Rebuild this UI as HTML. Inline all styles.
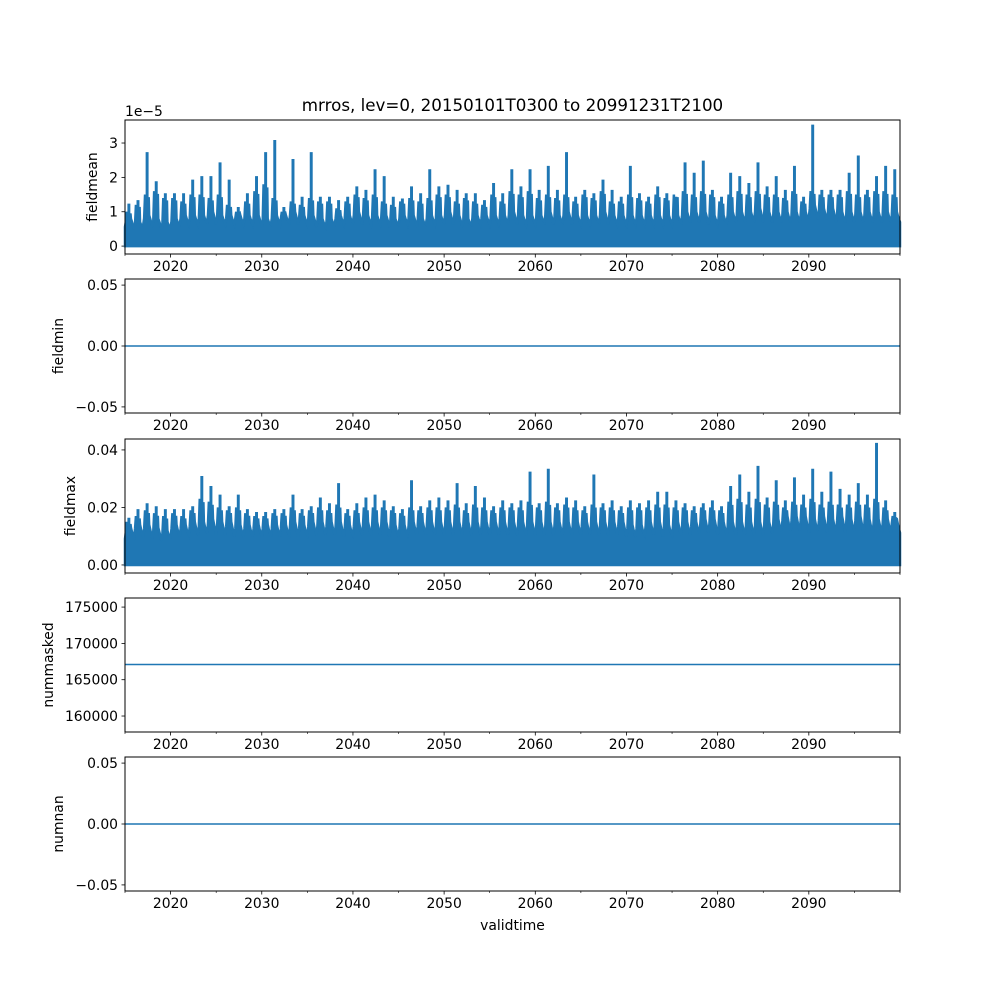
<!DOCTYPE html>
<html><head><meta charset="utf-8"><style>
body{margin:0;background:#fff}
svg{font-family:"DejaVu Sans","Liberation Sans",sans-serif}
text{font-size:13.9px;fill:#000}
</style></head><body>
<svg id="fig" width="1000" height="1000" viewBox="0 0 1000 1000">
<text x="512.5" y="111" text-anchor="middle" style="font-size:16.7px">mrros, lev=0, 20150101T0300 to 20991231T2100</text>
<text x="125" y="116">1e−5</text>
<text x="512.5" y="930" text-anchor="middle">validtime</text>
</svg>
<script>
const years = [];
for (let y = 2015; y <= 2099; y++) years.push(y);
const meanPeaks = [1.2,1.3,2.7,1.85,1.5,1.5,1.5,1.9,2.0,2.0,2.4,1.9,1.1,1.5,2.0,2.7,3.05,1.1,2.5,1.4,2.7,1.4,1.4,1.3,1.4,1.7,1.6,2.2,2.0,1.4,1.35,1.7,1.5,2.2,1.7,1.75,1.6,1.5,1.5,1.3,1.8,1.5,2.2,1.7,2.2,1.6,2.3,1.6,2.7,1.4,1.6,1.5,1.9,1.6,1.4,2.3,1.5,1.4,1.7,1.5,1.4,2.4,2.1,2.45,1.6,1.4,2.1,2.0,1.8,2.4,1.7,2.0,1.6,2.3,1.4,3.5,1.6,1.6,1.6,2.1,2.6,1.6,2.0,2.3,2.2];
const meanSecond = [1.0,1.2,1.5,1.6,1.4,1.4,1.3,1.5,1.5,1.4,1.5,1.2,1.0,1.3,1.6,1.8,1.4,1.0,1.3,1.2,1.4,1.3,1.3,1.1,1.3,1.5,1.4,1.5,1.3,1.2,1.3,1.4,1.3,1.4,1.5,1.5,1.3,1.4,1.3,1.2,1.5,1.3,1.6,1.5,1.6,1.4,1.5,1.4,1.5,1.3,1.5,1.4,1.6,1.3,1.3,1.5,1.4,1.3,1.5,1.4,1.5,1.6,1.5,1.6,1.5,1.3,1.5,1.6,1.5,1.6,1.5,1.5,1.4,1.6,1.3,1.6,1.5,1.5,1.5,1.6,1.5,1.5,1.6,1.6,1.5];
const meanBulk = [0.8,0.7,0.9,0.8,0.7,0.8,0.9,0.9,0.9,1.0,0.9,0.9,0.9,0.9,0.9,0.8,0.9,0.9,1.0,0.9,0.9,0.8,0.8,0.9,0.9,1.0,0.9,0.9,0.9,0.8,0.9,0.9,0.8,0.9,0.9,1.0,0.9,0.8,0.9,0.9,0.9,0.9,1.0,0.9,0.9,0.9,1.0,0.9,1.0,0.9,0.9,0.9,1.0,0.9,0.9,0.9,0.9,0.9,0.9,0.9,0.9,1.0,1.0,1.0,0.9,0.9,1.0,1.0,1.0,1.1,1.0,1.0,1.0,1.0,1.0,1.2,1.1,1.1,1.0,1.0,1.0,1.0,1.0,1.0,1.0];
const maxPeaks = [0.016,0.019,0.021,0.020,0.019,0.019,0.019,0.020,0.0305,0.027,0.024,0.020,0.024,0.019,0.018,0.018,0.019,0.019,0.024,0.019,0.020,0.023,0.021,0.028,0.019,0.021,0.023,0.024,0.022,0.020,0.019,0.029,0.020,0.022,0.023,0.022,0.028,0.021,0.027,0.023,0.020,0.022,0.021,0.022,0.032,0.021,0.033,0.021,0.023,0.022,0.020,0.031,0.021,0.022,0.020,0.022,0.021,0.022,0.025,0.025,0.022,0.021,0.020,0.021,0.022,0.020,0.027,0.031,0.025,0.034,0.023,0.029,0.022,0.030,0.024,0.033,0.025,0.032,0.026,0.024,0.028,0.024,0.042,0.022,0.018];
const maxSecond = [0.015,0.017,0.019,0.018,0.017,0.018,0.017,0.019,0.023,0.022,0.020,0.019,0.020,0.018,0.017,0.017,0.018,0.018,0.020,0.018,0.019,0.020,0.019,0.021,0.018,0.019,0.020,0.020,0.020,0.019,0.018,0.020,0.019,0.020,0.020,0.020,0.021,0.019,0.021,0.020,0.019,0.020,0.020,0.020,0.022,0.020,0.022,0.020,0.021,0.020,0.019,0.021,0.020,0.020,0.019,0.020,0.020,0.020,0.021,0.021,0.020,0.020,0.019,0.020,0.020,0.019,0.022,0.023,0.021,0.023,0.021,0.022,0.020,0.022,0.021,0.023,0.021,0.022,0.021,0.021,0.022,0.021,0.023,0.020,0.017];
const maxBulk = [0.013,0.014,0.014,0.013,0.012,0.014,0.014,0.015,0.015,0.016,0.015,0.015,0.014,0.014,0.014,0.014,0.014,0.014,0.015,0.014,0.015,0.015,0.015,0.015,0.014,0.015,0.015,0.015,0.015,0.014,0.014,0.015,0.015,0.015,0.015,0.015,0.015,0.015,0.015,0.015,0.015,0.015,0.015,0.015,0.015,0.015,0.015,0.015,0.015,0.015,0.015,0.015,0.015,0.015,0.015,0.014,0.014,0.015,0.015,0.014,0.015,0.015,0.015,0.016,0.016,0.015,0.015,0.015,0.015,0.015,0.015,0.016,0.017,0.017,0.017,0.016,0.017,0.016,0.017,0.016,0.017,0.016,0.016,0.016,0.016];
const fieldminValue = 0;
const nummaskedValue = 167100;
const numnanValue = 0;
const xTicks = [2020,2030,2040,2050,2060,2070,2080,2090];
const xMinor = [2015,2025,2035,2045,2055,2065,2075,2085,2095,2100];
const meanTicks = [0,1,2,3];
const minTicks = [-0.05,0,0.05];
const maxTicks = [0,0.02,0.04];
const maskTicks = [160000,165000,170000,175000];
const nanTicks = [-0.05,0,0.05];

const NS = "http://www.w3.org/2000/svg";
const svg = document.getElementById('fig');
const X0 = 125, X1 = 900, T0 = 2015, T1 = 2100;
const xs = t => X0 + (t - T0) / (T1 - T0) * (X1 - X0);
const BLUE = "#1f77b4";
function mk(tag, attrs, parent) {
  const e = document.createElementNS(NS, tag);
  for (const k in attrs) e.setAttribute(k, attrs[k]);
  (parent || svg).appendChild(e);
  return e;
}
function panel(name, top, bottom, ymin, ymax, ticks, fmt, ylabel, ylabelX) {
  const g = mk('g', {});
  
  
  const ys = v => bottom - (v - ymin) / (ymax - ymin) * (bottom - top);
  ticks.forEach(v => {
    const y = ys(v);
    mk('line', {x1: X0 - 3.5, x2: X0, y1: y, y2: y, stroke: '#000', 'stroke-width': 0.8}, g);
    const t = mk('text', {x: X0 - 7, y: y + 5, 'text-anchor': 'end'}, g);
    t.textContent = fmt(v);
    
    
  });
  xTicks.forEach(v => {
    const x = xs(v);
    mk('line', {x1: x, x2: x, y1: bottom, y2: bottom + 3.5, stroke: '#000', 'stroke-width': 0.8}, g);
    const t = mk('text', {x: x, y: bottom + 17, 'text-anchor': 'middle'}, g);
    t.textContent = v;
    
    
  });
  xMinor.forEach(v => {
    const x = xs(v);
    mk('line', {x1: x, x2: x, y1: bottom, y2: bottom + 2, stroke: '#000', 'stroke-width': 0.6}, g);
  });
  const yl = mk('text', {x: ylabelX, y: (top + bottom) / 2, 'text-anchor': 'middle', transform: `rotate(-90 ${ylabelX} ${(top + bottom) / 2})`}, g);
  yl.textContent = ylabel;
  
  
  return {g, ys, top, bottom};
}
function spikes(p, peaks, second, bulk, name) {
  const n = Math.min(peaks.length, second.length, bulk.length, years.length);
  let d = `M${X0},${p.ys(0)} `;
  for (let i = 0; i < n; i++) {
    const t = years[i], b = bulk[i], pk = peaks[i], s = second[i];
    d += `L${xs(t)},${p.ys(b * 0.7)} L${xs(t + 0.1)},${p.ys(b * 0.9)} L${xs(t + 0.2)},${p.ys(s)} L${xs(t + 0.25)},${p.ys(b)} L${xs(t + 0.4)},${p.ys(b)} L${xs(t + 0.4)},${p.ys(pk)} L${xs(t + 0.45)},${p.ys(pk)} L${xs(t + 0.45)},${p.ys(b)} L${xs(t + 0.6)},${p.ys(s * 0.95)} L${xs(t + 0.65)},${p.ys(b)} L${xs(t + 0.8)},${p.ys(b * 0.85)} `;
  }
  d += `L${X1},${p.ys(bulk[n - 1] * 0.7)} L${X1},${p.ys(0)} Z`;
  const path = mk('path', {d, fill: BLUE, stroke: BLUE, 'stroke-width': 2.5, 'stroke-linejoin': 'miter'}, p.g);
  
  
}
function hline(p, v, name) {
  const l = mk('line', {x1: X0, x2: X1, y1: p.ys(v), y2: p.ys(v), stroke: BLUE, 'stroke-width': 1.5}, p.g);
  
  
}
function frame(p) {
  mk('rect', {x: X0, y: p.top, width: X1 - X0, height: p.bottom - p.top, fill: 'none', stroke: '#000', 'stroke-width': 1}, p.g);
}
const p1 = panel('fieldmean', 120, 254, -0.23, 3.67, meanTicks, v => v, 'fieldmean', 97);
spikes(p1, meanPeaks, meanSecond, meanBulk, 'fieldmean'); frame(p1);
const p2 = panel('fieldmin', 279, 413, -0.055, 0.055, minTicks, v => v.toFixed(2).replace('-', '−'), 'fieldmin', 63);
hline(p2, fieldminValue, 'fieldmin'); frame(p2);
const p3 = panel('fieldmax', 439, 573, -0.0028, 0.0438, maxTicks, v => v.toFixed(2), 'fieldmax', 75);
spikes(p3, maxPeaks, maxSecond, maxBulk, 'fieldmax'); frame(p3);
const p4 = panel('nummasked', 598, 732, 157800, 176250, maskTicks, v => v, 'nummasked', 53);
hline(p4, nummaskedValue, 'nummasked'); frame(p4);
const p5 = panel('numnan', 757, 891, -0.055, 0.055, nanTicks, v => v.toFixed(2).replace('-', '−'), 'numnan', 63);
hline(p5, numnanValue, 'numnan'); frame(p5);
</script>
</body></html>
